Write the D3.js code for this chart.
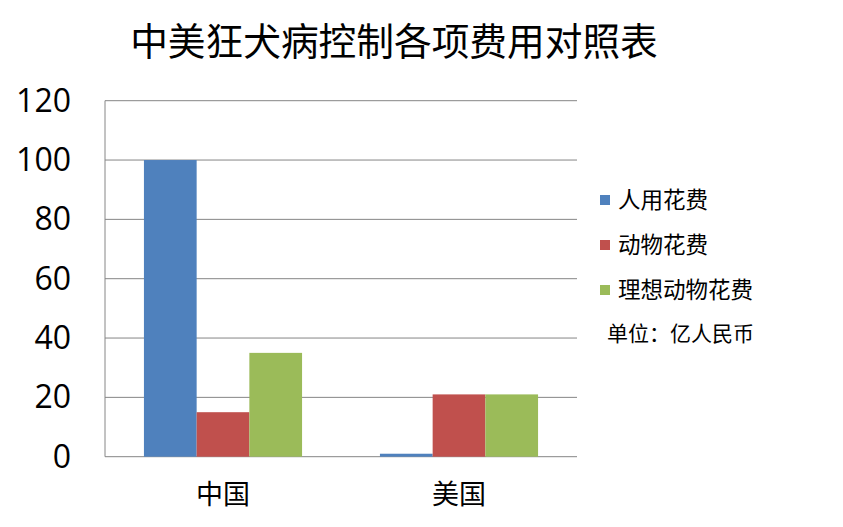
<!DOCTYPE html>
<html><head><meta charset="utf-8">
<script src="https://cdn.jsdelivr.net/npm/d3@7/dist/d3.min.js"></script>
<style>body{margin:0;background:#fff}svg{display:block}</style>
</head><body>
<svg id="c" width="843" height="527"></svg>
<script>
const title = "中美狂犬病控制各项费用对照表";
const categories = ["中国", "美国"];
const seriesNames = ["人用花费", "动物花费", "理想动物花费"];
const humanCost = [100, 1];
const animalCost = [15, 21];
const idealAnimalCost = [35, 21];
const yTicks = [0, 20, 40, 60, 80, 100, 120];
const unitLabel = "单位：亿人民币";
const colors = ["#4F81BD", "#C0504D", "#9BBB59"];

const series = [humanCost, animalCost, idealAnimalCost];
const svg = d3.select("#c");
const L = 105, R = 577, T = 100.7, B = 456.7;

const y = d3.scaleLinear().domain([0, 120]).range([B, T]);
const x0 = d3.scaleBand().domain(categories).range([L, R]).paddingInner(0.33).paddingOuter(0.165);
const x1 = d3.scaleBand().domain(seriesNames).range([0, x0.bandwidth()]);

// gridlines
svg.append("g").selectAll("line").data(yTicks).join("line")
  .attr("x1", L).attr("x2", R)
  .attr("y1", d => y(d)).attr("y2", d => y(d))
  .attr("stroke", "#868686").attr("stroke-width", 1);
// left axis line
svg.append("line").attr("x1", L).attr("x2", L).attr("y1", T).attr("y2", B)
  .attr("stroke", "#868686").attr("stroke-width", 1);

// bars
const g = svg.append("g");
categories.forEach((c, ci) => {
  series.forEach((s, si) => {
    g.append("rect")
      .attr("x", x0(c) + x1(seriesNames[si]))
      .attr("width", x1.bandwidth())
      .attr("y", y(s[ci]))
      .attr("height", y(0) - y(s[ci]))
      .attr("fill", colors[si]);
  });
});

// y tick labels
svg.append("g").selectAll("text").data(yTicks).join("text")
  .attr("x", 71).attr("y", d => y(d) + 11)
  .attr("text-anchor", "end")
  .attr("font-family", "'Open Sans', 'Liberation Sans', sans-serif")
  .attr("font-size", 32).attr("fill", "#000")
  .text(d => d);

// category labels
svg.append("g").selectAll("text").data(categories).join("text")
  .attr("x", d => x0(d) + x0.bandwidth() / 2).attr("y", 504)
  .attr("text-anchor", "middle")
  .attr("font-family", "'Noto Sans CJK SC', sans-serif")
  .attr("font-size", 27).attr("fill", "#000")
  .text(d => d);

// title
svg.append("text").attr("x", 394).attr("y", 55).attr("text-anchor", "middle")
  .attr("font-family", "'Noto Sans CJK SC', sans-serif")
  .attr("font-size", 37.7).attr("fill", "#000").text(title);

// legend
const lg = svg.append("g");
seriesNames.forEach((n, i) => {
  const cy = 200 + i * 45;
  lg.append("rect").attr("x", 600).attr("y", cy - 5).attr("width", 10).attr("height", 10).attr("fill", colors[i]);
  lg.append("text").attr("x", 618).attr("y", cy + 8)
    .attr("font-family", "'Noto Sans CJK SC', sans-serif")
    .attr("font-size", 22.5).attr("fill", "#000").text(n);
});
lg.append("text").attr("x", 607).attr("y", 341)
  .attr("font-family", "'Noto Sans CJK SC', sans-serif")
  .attr("font-size", 21).attr("fill", "#000").text(unitLabel);
</script>
</body></html>
